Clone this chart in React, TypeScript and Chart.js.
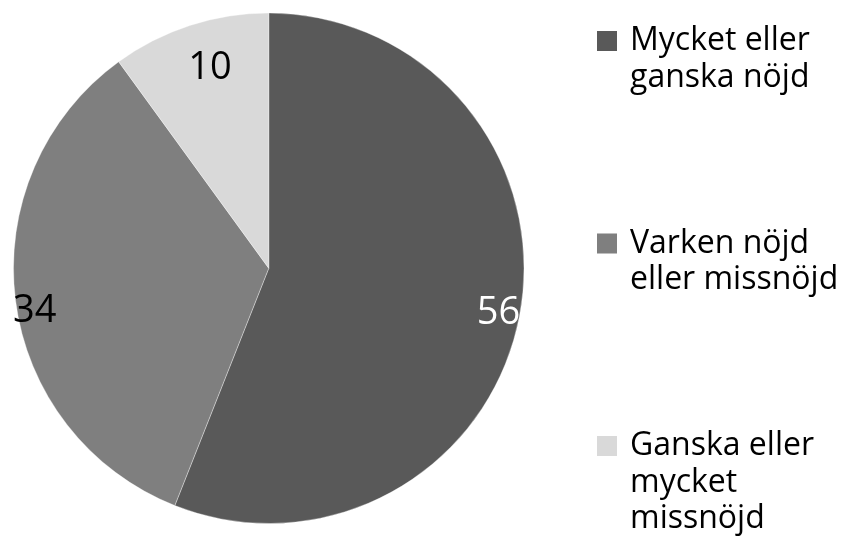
import React, { useEffect, useRef } from "react";
import { Chart, registerables } from "chart.js";

Chart.register(...registerables);

const categories: string[][] = [
  ["Mycket eller", "ganska nöjd"],
  ["Varken nöjd", "eller missnöjd"],
  ["Ganska eller", "mycket", "missnöjd"],
];
const values: number[] = [56, 34, 10];
const colors: string[] = ["#595959", "#7f7f7f", "#d9d9d9"];
const labelColors: string[] = ["#ffffff", "#000000", "#000000"];
const labelRadiusFrac: number[] = [0.915, 0.93, 0.826];
const labelAngleShiftDeg: number[] = [-0.4, -2.5, 1.8];

const FONT = "'Open Sans', 'DejaVu Sans', sans-serif";

const customPlugin = {
  id: "customLabelsLegend",
  afterDraw(chart: any) {
    const ctx = chart.ctx as CanvasRenderingContext2D;
    const meta = chart.getDatasetMeta(0);
    // data labels
    ctx.save();
    const labelSize = 38;
    ctx.font = `${labelSize}px ${FONT}`;
    ctx.textAlign = "center";
    ctx.textBaseline = "alphabetic";
    meta.data.forEach((arc: any, i: number) => {
      const p = arc.getProps(["x", "y", "startAngle", "endAngle", "outerRadius"], true);
      const mid = (p.startAngle + p.endAngle) / 2 + (labelAngleShiftDeg[i] * Math.PI) / 180;
      const d = p.outerRadius * labelRadiusFrac[i];
      const cx = p.x + Math.cos(mid) * d;
      const cy = p.y + Math.sin(mid) * d;
      ctx.fillStyle = labelColors[i];
      ctx.fillText(String(values[i]), cx, cy + labelSize * 0.357);
    });
    ctx.restore();

    // legend
    ctx.save();
    const fs = 32;
    const lineH = 36.5;
    const itemGap = 166;
    const boxX = 597;
    const textX = 630;
    let baseline = 50;
    ctx.font = `${fs}px ${FONT}`;
    ctx.textAlign = "left";
    ctx.textBaseline = "alphabetic";
    categories.forEach((lines, i) => {
      ctx.fillStyle = colors[i];
      ctx.fillRect(boxX, baseline - 19, 20, 20);
      ctx.fillStyle = "#000000";
      lines.forEach((ln, j) => {
        ctx.fillText(ln, textX, baseline + j * lineH);
      });
      baseline = baseline + (lines.length - 1) * lineH + itemGap;
    });
    ctx.restore();
  },
};

export default function App() {
  const ref = useRef<HTMLCanvasElement | null>(null);
  useEffect(() => {
    if (!ref.current) return;
    const chart = new Chart(ref.current, {
      type: "pie",
      data: {
        labels: categories,
        datasets: [
          {
            data: values,
            backgroundColor: colors,
            borderColor: "rgba(255,255,255,0.35)",
            borderWidth: 1,
          },
        ],
      },
      options: {
        responsive: false,
        animation: false,
        layout: { padding: { left: 12.5, top: 12.5, right: 316, bottom: 27 } },
        plugins: {
          legend: { display: false },
          tooltip: { enabled: false },
        },
      },
      plugins: [customPlugin],
    });
    return () => chart.destroy();
  }, []);
  return (
    <div style={{ position: "fixed", left: 0, top: 0, width: 841, height: 551, background: "#fff" }}>
      <canvas ref={ref} width={841} height={551} style={{ width: 841, height: 551, display: "block" }} />
    </div>
  );
}
